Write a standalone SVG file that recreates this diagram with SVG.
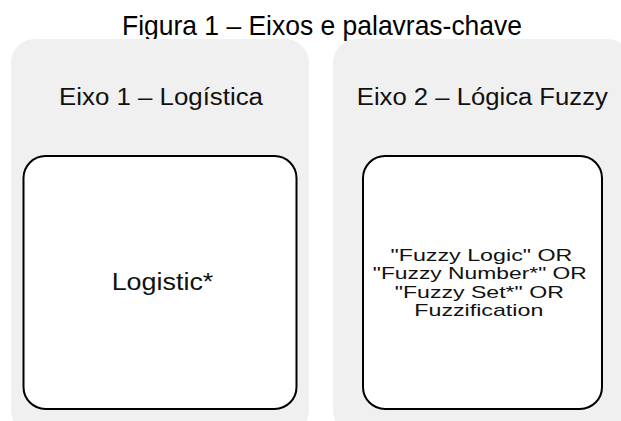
<svg xmlns="http://www.w3.org/2000/svg" width="621" height="421" viewBox="0 0 621 421">
  <style>
    .panel { fill: #f0f0f0; stroke: none; }
    .box { fill: #ffffff; stroke: #000000; stroke-width: 2; }
    text { font-family: "Liberation Sans", Arial, sans-serif; text-anchor: middle; fill: #111111; }
    .title { font-size: 28px; fill: #000000; }
    .head { font-size: 23px; }
    .label { font-size: 23px; }
    .small { font-size: 17px; }
  </style>
  <rect width="621" height="421" fill="#ffffff"/>
  <text id="title" class="title" x="322" y="35" textLength="400" lengthAdjust="spacingAndGlyphs">Figura 1 – Eixos e palavras-chave</text>
  <g id="eixo1">
    <rect class="panel" x="11" y="39" width="298" height="395" rx="24"/>
    <text class="head" x="161" y="104.5" textLength="204" lengthAdjust="spacingAndGlyphs">Eixo 1 – Logística</text>
    <g id="eixo1-box">
      <rect class="box" x="23.5" y="156" width="273" height="253" rx="22"/>
      <text class="label" x="162.5" y="289.5" textLength="101.7" lengthAdjust="spacingAndGlyphs">Logistic*</text>
    </g>
  </g>
  <g id="eixo2">
    <rect class="panel" x="333" y="39" width="298" height="395" rx="24"/>
    <text class="head" x="482.3" y="104.5" textLength="251" lengthAdjust="spacingAndGlyphs">Eixo 2 – Lógica Fuzzy</text>
    <g id="eixo2-box">
      <rect class="box" x="363" y="156" width="239" height="253" rx="22"/>
      <text class="small">
        <tspan x="483.8" y="261" textLength="182" lengthAdjust="spacingAndGlyphs">"Fuzzy Logic" OR</tspan>
        <tspan x="482.2" y="279.3" textLength="214" lengthAdjust="spacingAndGlyphs">"Fuzzy Number*" OR</tspan>
        <tspan x="481.7" y="297.6" textLength="169" lengthAdjust="spacingAndGlyphs">"Fuzzy Set*" OR</tspan>
        <tspan x="478.8" y="315.9" textLength="129" lengthAdjust="spacingAndGlyphs">Fuzzification</tspan>
      </text>
    </g>
  </g>
</svg>
